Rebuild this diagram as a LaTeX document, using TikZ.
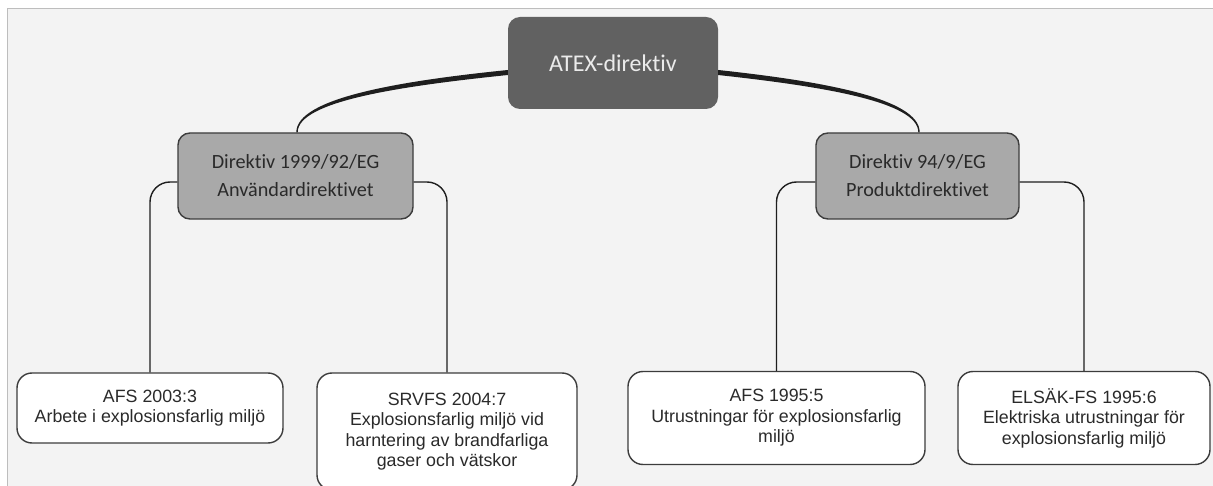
\documentclass[tikz,border=0pt]{standalone}
\usepackage{fontspec}
\setmainfont{Liberation Sans}
\newfontfamily\calib[RawFeature={-liga;-clig;-calt;-dlig}]{Carlito}
\usetikzlibrary{calc}

\definecolor{pagebg}{HTML}{F3F3F3}
\definecolor{framegray}{HTML}{BDBDBD}
\definecolor{topfill}{HTML}{616161}
\definecolor{midfill}{HTML}{A9A9A9}
\definecolor{edgegray}{HTML}{3C3C3C}
\definecolor{linkcol}{HTML}{1E1E1E}
\definecolor{textdark}{HTML}{2A2A2A}

\tikzset{
  topbox/.style={rectangle, rounded corners=12pt, fill=topfill, draw=none,
    inner sep=0pt, align=center, text=white!92!black,
    font=\calib\fontsize{24}{28}\selectfont},
  midbox/.style={rectangle, rounded corners=12pt, fill=midfill, draw=edgegray,
    line width=1.4pt, inner sep=0pt, align=center, text=textdark,
    font=\calib\fontsize{20.2}{28}\selectfont, minimum height=86pt},
  leafbox/.style={rectangle, rounded corners=15pt, fill=white, draw=edgegray,
    line width=1.4pt, inner sep=0pt, align=center, text=textdark,
    font=\fontsize{17.8}{20.5}\selectfont},
  branch/.style={draw=linkcol, line width=1.4pt, rounded corners=20pt},
}

\begin{document}
\begin{tikzpicture}[x=1pt, y=-1pt]
  \useasboundingbox (0,0) rectangle (1213,486);
  % page and panel
  \fill[white] (0,0) rectangle (1213,486);
  \fill[pagebg] (7,9) rectangle (1213,486);
  \draw[framegray, line width=1pt] (7,486) -- (7,9) -- (1213,9);

  % nodes
  \node[topbox, minimum width=210pt, minimum height=92pt] (atex) at (613,63) {ATEX-direktiv};
  \node[midbox, minimum width=235pt] (anv) at (295.5,176) {Direktiv 1999/92/EG\\Användardirektivet};
  \node[midbox, minimum width=203pt] (prod) at (917.5,176) {Direktiv 94/9/EG\\Produktdirektivet};

  \node[leafbox, minimum width=266pt, minimum height=70pt] (afs03) at (150,408)
    {AFS 2003:3\\Arbete i explosionsfarlig miljö};
  \node[leafbox, minimum width=260pt, minimum height=117pt] (srvfs) at (447,431.5)
    {SRVFS 2004:7\\Explosionsfarlig miljö vid\\harntering av brandfarliga\\gaser och vätskor};
  \node[leafbox, minimum width=297pt, minimum height=93pt] (afs95) at (776.5,418)
    {AFS 1995:5\\Utrustningar för explosionsfarlig\\miljö};
  \node[leafbox, minimum width=252pt, minimum height=93pt] (elsak) at (1084,418)
    {ELSÄK-FS 1995:6\\Elektriska utrustningar för\\explosionsfarlig miljö};

  % tapered links from the top node
  \fill[linkcol] ($(atex.west)+(0,7)$) .. controls (400,81) and (296.3,98) .. ($(anv.north)+(0.8,0)$)
    -- ($(anv.north)+(2.2,0)$) .. controls (297.7,101) and (402,86) .. ($(atex.west)+(0,12)$) -- cycle;
  \fill[linkcol] ($(atex.east)+(0,7)$) .. controls (820,81) and (919.7,98) .. ($(prod.north)+(2.2,0)$)
    -- ($(prod.north)+(0.8,0)$) .. controls (918.3,101) and (818,86) .. ($(atex.east)+(0,12)$) -- cycle;

  % links down to the regulations
  \draw[branch] ($(anv.west)+(0,6)$) -| (afs03.north);
  \draw[branch] ($(anv.east)+(0,6)$) -| (srvfs.north);
  \draw[branch] ($(prod.west)+(0,6)$) -| (afs95.north);
  \draw[branch] ($(prod.east)+(0,6)$) -| (elsak.north);
\end{tikzpicture}
\end{document}
